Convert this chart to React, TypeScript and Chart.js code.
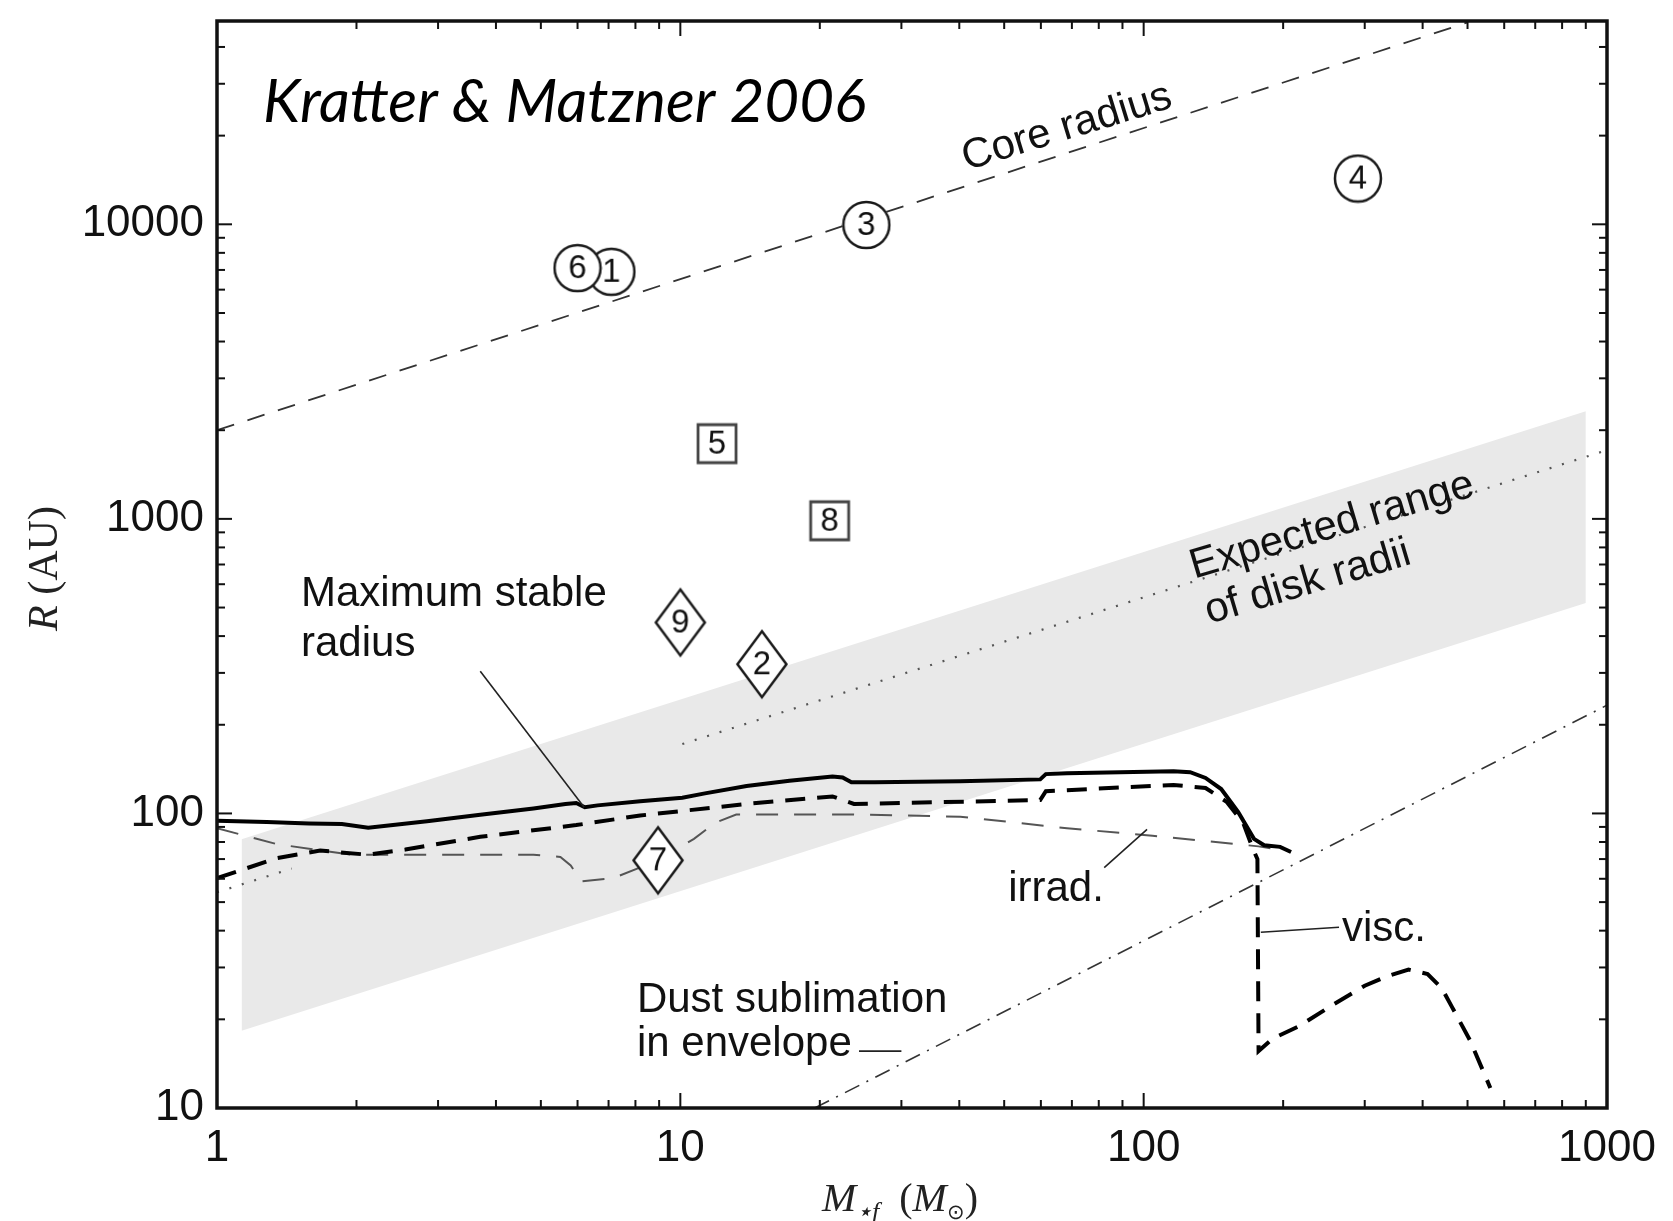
import React, { useEffect, useRef } from "react";
import { Chart, registerables } from "chart.js";

Chart.register(...registerables);

const CANVAS_W = 1673;
const CANVAS_H = 1221;

// Axis ranges and labelled ticks
const massRange = [1, 1000];
const radiusRange = [10, 49000];
const massTicks = [1, 10, 100, 1000];
const radiusTicks = [10, 100, 1000, 10000];

// Expected range of disk radii (shaded band)
const bandMass = [1.13, 900];
const bandUpper = [81.7, 2320];
const bandLower = [18.3, 518];

// Core radius (thin dashed)
const coreMass = [1, 501];
const coreRadius = [2000, 48500];

// Dotted reference line (two visible pieces)
const dottedLowMass = [1, 1.45];
const dottedLowRadius = [54, 65];
const dottedHighMass = [10.1, 1000];
const dottedHighRadius = [172, 1712];

// Dust sublimation in envelope (dash-dot)
const dustMass = [19.5, 1000];
const dustRadius = [10, 233];

// Maximum stable radius (thick solid)
const stableMass = [1.0, 1.28, 1.58, 1.86, 2.12, 2.84, 3.7, 4.82, 5.65, 5.96, 6.22, 6.63, 8.19, 10.1, 11.3, 13.9, 17.2, 21.3, 22.4, 23.4, 26.3, 40.2, 59.8, 61.5, 68.3, 116, 126, 136, 147, 160, 173, 182, 197, 208];
const stableRadius = [94.5, 93.5, 92.5, 92, 89.5, 94, 99, 104, 107.7, 108.5, 105, 106.5, 110, 113, 117, 124, 129, 133.5, 132.5, 127.5, 127.5, 128.5, 130.5, 136, 137, 139, 138, 132, 121, 101, 82, 78, 77, 74];

// Viscous limit (thick dashed)
const viscMass = [1.0, 1.35, 1.67, 2.12, 2.55, 3.7, 5.96, 8.19, 13.9, 21.3, 23.7, 59.8, 61.5, 116, 136, 151, 164, 172, 176, 177, 190, 217, 257, 300, 335, 373, 410, 440, 463, 506, 560];
const viscRadius = [60.3, 70.6, 74.8, 72.4, 75.4, 83.3, 91.3, 98.4, 107.7, 114.2, 107.7, 111, 119, 125, 122, 109.6, 92.8, 76, 70, 15.6, 17.2, 19, 22.5, 26, 28, 29.5, 28.5, 25.5, 22, 17, 11.7];

// Irradiation limit (thin dashed)
const irradMass = [1.0, 1.35, 1.96, 3.15, 4.82, 5.51, 5.8, 6.12, 7.17, 8.95, 10.7, 11.9, 13.2, 23.7, 40.2, 68.3, 104.5, 177, 208];
const irradRadius = [89.1, 78.6, 72.4, 72.4, 72.4, 71.2, 66.6, 58.8, 60.3, 69.3, 82, 93, 99.2, 99.2, 97.5, 89.1, 84, 77.3, 74.2];

// Leader lines from the labels to their curves
const leaderMass = [[3.7, 6.2], [82.2, 101.7], [179, 264], [24.3, 30]];
const leaderRadius = [[304, 105], [65.5, 88.3], [39.5, 41.1], [15.6, 15.6]];

// Observed objects
const objectIds = ["1", "6", "3", "4", "5", "8", "9", "2", "7"];
const objectMass = [7.1, 6.0, 25.2, 290, 12.0, 21.0, 10.0, 15.0, 8.95];
const objectRadius = [6900, 7100, 9950, 14300, 1800, 985, 445, 321, 69.3];
const objectKind = ["circle", "circle", "circle", "circle", "square", "square", "diamond", "diamond", "diamond"];

// Text annotations, anchored in data coordinates
const noteText = ["Core radius", "Maximum stable", "radius", "Expected range", "of disk radii", "irrad.", "visc.", "Dust sublimation", "in envelope"];
const noteMass = [68.3, 1.518, 1.518, 255, 226, 51, 268, 8.06, 8.06];
const noteRadius = [21300, 553, 375, 946, 608, 55, 40.5, 23.2, 16.5];
const noteAngle = [-17, 0, 0, -16.5, -16.5, 0, 0, 0, 0];
const creditText = "Kratter & Matzner 2006";
const creditMass = 1.257;
const creditRadius = 25800;

const zip = (xs: number[], ys: number[]) => xs.map((x, i) => ({ x, y: ys[i] }));

const SANS = '"Liberation Sans", Arial, sans-serif';
const SERIF = '"Liberation Serif", "Times New Roman", serif';

function markerImage(kind: string, id: string): HTMLCanvasElement {
  const c = document.createElement("canvas");
  const w = kind === "diamond" ? 54 : kind === "square" ? 44 : 50;
  const h = kind === "diamond" ? 72 : w;
  c.width = w;
  c.height = h;
  const g = c.getContext("2d")!;
  g.fillStyle = "#fff";
  g.strokeStyle = "#1a1a1a";
  g.lineWidth = 2.5;
  g.beginPath();
  if (kind === "circle") {
    g.arc(w / 2, h / 2, w / 2 - 2, 0, Math.PI * 2);
  } else if (kind === "square") {
    g.rect(3, 3, w - 6, h - 6);
    g.strokeStyle = "#444";
    g.lineWidth = 2.8;
  } else {
    g.moveTo(w / 2, 3);
    g.lineTo(w - 2.5, h / 2);
    g.lineTo(w / 2, h - 3);
    g.lineTo(2.5, h / 2);
    g.closePath();
  }
  g.fill();
  g.stroke();
  g.fillStyle = "#111";
  g.font = `33px ${SANS}`;
  g.textAlign = "center";
  g.textBaseline = "middle";
  g.fillText(id, w / 2, h / 2 + 1);
  return c;
}

const overlayPlugin = {
  id: "overlay",
  afterDatasetsDraw(chart: any) {
    const { ctx, chartArea: a, scales } = chart;
    const xs = scales.x;
    const ys = scales.y;
    ctx.save();

    // annotations
    ctx.fillStyle = "#111";
    ctx.font = `42px ${SANS}`;
    noteText.forEach((t, i) => {
      const px = xs.getPixelForValue(noteMass[i]);
      const py = ys.getPixelForValue(noteRadius[i]);
      ctx.save();
      ctx.translate(px, py);
      ctx.rotate((noteAngle[i] * Math.PI) / 180);
      ctx.textAlign = noteAngle[i] !== 0 ? "center" : "left";
      ctx.textBaseline = "middle";
      ctx.fillText(t, 0, 0);
      ctx.restore();
    });

    // credit line
    ctx.save();
    ctx.font = `italic 52px Lato, "Open Sans", sans-serif`;
    const cw = ctx.measureText(creditText).width;
    const size = (52 * 603) / cw;
    ctx.font = `italic ${size.toFixed(1)}px Lato, "Open Sans", sans-serif`;
    ctx.textAlign = "left";
    ctx.textBaseline = "middle";
    ctx.fillStyle = "#000";
    ctx.fillText(creditText, xs.getPixelForValue(creditMass), ys.getPixelForValue(creditRadius));
    ctx.restore();

    // inward ticks on all four sides
    ctx.strokeStyle = "#111";
    ctx.lineWidth = 2;
    const seg = (x1: number, y1: number, x2: number, y2: number) => {
      ctx.beginPath();
      ctx.moveTo(x1, y1);
      ctx.lineTo(x2, y2);
      ctx.stroke();
    };
    for (let d = 0; d < 3; d++) {
      for (let k = 1; k <= 9; k++) {
        const v = k * Math.pow(10, d);
        const px = xs.getPixelForValue(v);
        const len = k === 1 ? 15 : 8;
        seg(px, a.bottom, px, a.bottom - len);
        seg(px, a.top, px, a.top + len);
      }
    }
    for (let d = 1; d < 5; d++) {
      for (let k = 1; k <= 9; k++) {
        const v = k * Math.pow(10, d);
        if (v > radiusRange[1]) break;
        const py = ys.getPixelForValue(v);
        const len = k === 1 ? 15 : 8;
        seg(a.left, py, a.left + len, py);
        seg(a.right, py, a.right - len, py);
      }
    }

    // frame
    ctx.lineWidth = 3.5;
    ctx.strokeRect(a.left, a.top, a.right - a.left, a.bottom - a.top);

    // y title: R (AU)
    ctx.fillStyle = "#222";
    ctx.save();
    ctx.translate(46, (a.top + a.bottom) / 2 + 4);
    ctx.rotate(-Math.PI / 2);
    ctx.textBaseline = "middle";
    ctx.textAlign = "left";
    const fi = `italic 42px ${SERIF}`;
    const fr = `42px ${SERIF}`;
    ctx.font = fi;
    const w1 = ctx.measureText("R").width;
    ctx.font = fr;
    const w2 = ctx.measureText(" (AU)").width;
    const x0 = -(w1 + w2) / 2;
    ctx.font = fi;
    ctx.fillText("R", x0, 0);
    ctx.font = fr;
    ctx.fillText(" (AU)", x0 + w1, 0);
    ctx.restore();

    // x title: M*f (M_sun)
    const parts = [
      { t: "M", f: `italic 41px ${SERIF}`, dy: 0 },
      { t: "\u22C6f", f: `italic 26px ${SERIF}`, dy: 9 },
      { t: "  (", f: `40px ${SERIF}`, dy: 0 },
      { t: "M", f: `italic 41px ${SERIF}`, dy: 0 },
      { t: "\u2299", f: `21px ${SERIF}`, dy: 8 },
      { t: ")", f: `40px ${SERIF}`, dy: 0 },
    ];
    let total = 0;
    const widths = parts.map((p) => {
      ctx.font = p.f;
      const w = ctx.measureText(p.t).width;
      total += w;
      return w;
    });
    let xx = 900 - total / 2;
    const base = 1211;
    ctx.textAlign = "left";
    ctx.textBaseline = "alphabetic";
    parts.forEach((p, i) => {
      ctx.font = p.f;
      ctx.fillText(p.t, xx, base + p.dy);
      xx += widths[i];
    });

    ctx.restore();
  },
};

export default function App() {
  const ref = useRef<HTMLCanvasElement | null>(null);

  useEffect(() => {
    const canvas = ref.current;
    if (!canvas) return;

    const lineBase = { pointRadius: 0, pointHoverRadius: 0, fill: false, tension: 0 };
    const markers = objectIds.map((id, i) => markerImage(objectKind[i], id));

    const datasets: any[] = [
      {
        ...lineBase,
        data: zip(bandMass, bandUpper),
        borderWidth: 0,
        borderColor: "rgba(0,0,0,0)",
        backgroundColor: "#e9e9e9",
        fill: "+1",
        order: 20,
      },
      {
        ...lineBase,
        data: zip(bandMass, bandLower),
        borderWidth: 0,
        borderColor: "rgba(0,0,0,0)",
        order: 19,
      },
      {
        ...lineBase,
        data: zip(dottedLowMass, dottedLowRadius),
        borderColor: "#555",
        borderWidth: 2.2,
        borderDash: [2, 11],
        order: 18,
      },
      {
        ...lineBase,
        data: zip(dottedHighMass, dottedHighRadius),
        borderColor: "#555",
        borderWidth: 2.2,
        borderDash: [2, 11],
        order: 17,
      },
      {
        ...lineBase,
        data: zip(coreMass, coreRadius),
        borderColor: "#333",
        borderWidth: 1.8,
        borderDash: [18, 14],
        order: 16,
      },
      {
        ...lineBase,
        data: zip(dustMass, dustRadius),
        borderColor: "#333",
        borderWidth: 1.6,
        borderDash: [16, 8, 2, 8],
        order: 15,
      },
      {
        ...lineBase,
        data: zip(irradMass, irradRadius),
        borderColor: "#555",
        borderWidth: 2,
        borderDash: [22, 16],
        order: 14,
      },
      {
        ...lineBase,
        data: zip(viscMass, viscRadius),
        borderColor: "#000",
        borderWidth: 4,
        borderDash: [20, 12],
        order: 13,
      },
      {
        ...lineBase,
        data: zip(stableMass, stableRadius),
        borderColor: "#000",
        borderWidth: 4,
        order: 12,
      },
      ...leaderMass.map((m, i) => ({
        ...lineBase,
        data: zip(m, leaderRadius[i]),
        borderColor: "#222",
        borderWidth: 1.6,
        order: 5,
      })),
      {
        data: zip(objectMass, objectRadius),
        showLine: false,
        pointStyle: markers,
        pointRadius: 20,
        pointHoverRadius: 20,
        order: 0,
      },
    ];

    const chart = new Chart(canvas, {
      type: "line",
      data: { datasets },
      plugins: [overlayPlugin],
      options: {
        responsive: false,
        animation: false,
        events: [],
        layout: { padding: { top: 15, right: 66, left: 0, bottom: 0 } },
        plugins: { legend: { display: false }, tooltip: { enabled: false } },
        scales: {
          x: {
            type: "logarithmic",
            position: "bottom",
            min: massRange[0],
            max: massRange[1],
            grid: { display: false, drawTicks: false },
            border: { display: false },
            afterBuildTicks: (s: any) => {
              s.ticks = massTicks.map((v) => ({ value: v }));
            },
            afterFit: (s: any) => {
              s.height = CANVAS_H - 1108;
              s.paddingLeft = 0;
              s.paddingRight = 0;
            },
            ticks: {
              autoSkip: false,
              maxRotation: 0,
              padding: 14,
              color: "#111",
              font: { family: SANS, size: 44 },
              callback: (v: any) => String(v),
            },
          },
          y: {
            type: "logarithmic",
            position: "left",
            min: radiusRange[0],
            max: radiusRange[1],
            grid: { display: false, drawTicks: false },
            border: { display: false },
            afterBuildTicks: (s: any) => {
              s.ticks = radiusTicks.map((v) => ({ value: v }));
            },
            afterFit: (s: any) => {
              s.width = 217;
              s.paddingTop = 0;
              s.paddingBottom = 0;
            },
            ticks: {
              autoSkip: false,
              padding: 13,
              color: "#111",
              font: { family: SANS, size: 44 },
              callback: (v: any) => String(v),
            },
          },
        },
      } as any,
    });

    return () => chart.destroy();
  }, []);

  return (
    <div style={{ position: "fixed", left: 0, top: 0, width: CANVAS_W, height: CANVAS_H, background: "#fff" }}>
      <canvas ref={ref} width={CANVAS_W} height={CANVAS_H} style={{ width: CANVAS_W, height: CANVAS_H, display: "block" }} />
    </div>
  );
}
